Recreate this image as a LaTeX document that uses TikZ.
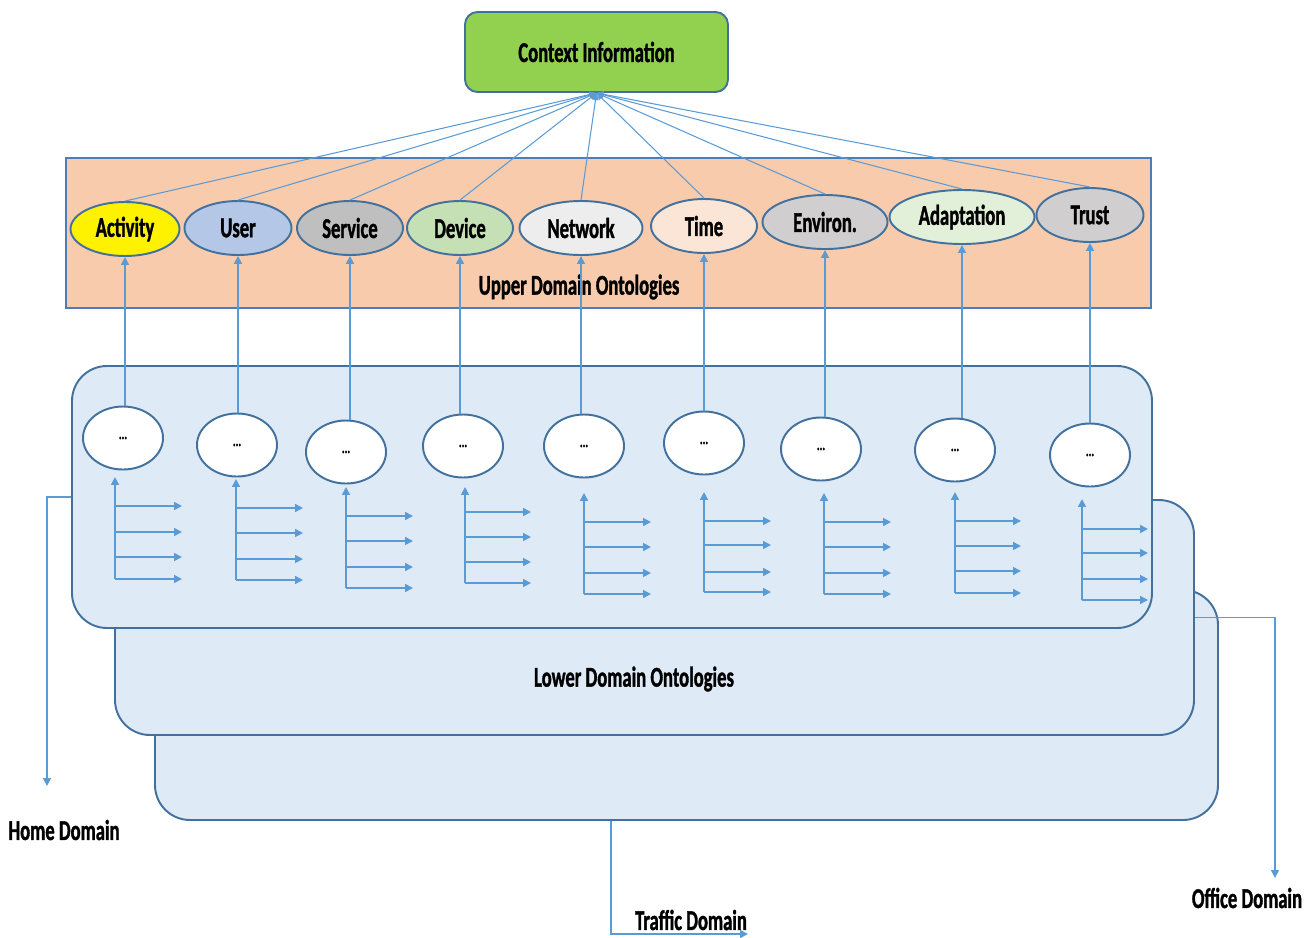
\documentclass[tikz,border=0pt]{standalone}
\usepackage{fontspec}
\newfontfamily\lblf{Carlito Bold}[FakeStretch=0.65, FakeBold=1.2]
\usetikzlibrary{shapes.geometric,arrows.meta}
\definecolor{ctxf}{HTML}{92D050}
\definecolor{ellc}{HTML}{41719C}
\definecolor{upf}{HTML}{F8CBAD}
\definecolor{upd}{HTML}{4A7EBB}
\definecolor{lowf}{HTML}{DEEAF6}
\definecolor{lowd}{HTML}{41719C}
\definecolor{connc}{HTML}{5B9BD5}
\definecolor{userf}{HTML}{B4C7E7}
\definecolor{servf}{HTML}{BFBFBF}
\definecolor{devf}{HTML}{C5E0B4}
\definecolor{netf}{HTML}{EDEDED}
\definecolor{timef}{HTML}{FBE5D6}
\definecolor{envf}{HTML}{D0CECE}
\definecolor{adapf}{HTML}{E2F0D9}
\newcommand\forkgrp[7]{%
  \draw[conn,tip] (#1,#6) -- (#1,#2);
  \foreach \yy in {#3,#4,#5,#6} \draw[conn,tip] (#1,\yy) -- (#7,\yy);
}
\begin{document}
\begin{tikzpicture}[x=0.02cm,y=-0.02cm,
  lbl/.style={font=\lblf\fontsize{16.3}{18}\selectfont, text=black},
  conn/.style={draw=connc, line width=0.9pt},
  tip/.style={-{Triangle[length=4.5pt,width=4.5pt]}},
  thintip/.style={-{Triangle[length=4pt,width=3.5pt]}},
  upell/.style={ellipse, draw=ellc, line width=1.1pt, minimum height={54*0.02cm}, inner sep=0pt, lbl},
  smell/.style={ellipse, draw=ellc, fill=white, line width=1.1pt, minimum width={80*0.02cm}, minimum height={63*0.02cm}, inner sep=0pt, font=\lblf\fontsize{9}{10}\selectfont},
  lowbox/.style={draw=lowd, fill=lowf, line width=1.1pt, rounded corners=0.7cm, inner sep=0pt}
]
\useasboundingbox (0,0) rectangle (1315,937);

% context information
\node[draw=ellc, fill=ctxf, line width=1.1pt, rounded corners=0.25cm, minimum width={263*0.02cm}, minimum height={80*0.02cm}, lbl] (ctx) at (596.5,52) {Context Information};

% upper domain box
\node[draw=upd, fill=upf, line width=1.1pt, minimum width={1085*0.02cm}, minimum height={150*0.02cm}] (upper) at (608.5,233) {};
\node[lbl] (uplbl) at (579,287) {Upper Domain Ontologies};

\node[upell, fill=yellow, minimum width={109*0.02cm}] (act) at (125,229) {Activity};
\node[upell, fill=userf, minimum width={107*0.02cm}] (user) at (238,228) {User};
\node[upell, fill=servf, minimum width={106*0.02cm}] (serv) at (350,228) {Service};
\node[upell, fill=devf, minimum width={106*0.02cm}] (dev) at (460,228) {Device};
\node[upell, fill=netf, minimum width={123*0.02cm}] (net) at (581,228) {Network};
\node[upell, fill=timef, minimum width={106*0.02cm}] (time) at (704,226) {Time};
\node[upell, fill=envf, minimum width={125*0.02cm}] (env) at (825,222) {Environ.};
\node[upell, fill=adapf, minimum width={145*0.02cm}] (adap) at (962,217) {Adaptation};
\node[upell, fill=envf, minimum width={107*0.02cm}] (trust) at (1090,215) {Trust};

\foreach \n in {act,user,serv,dev,net,time,env,adap,trust}
  \draw[conn, line width=0.6pt, thintip] (\n.north) -- (ctx.south);

% lower domain boxes
\node[lowbox, minimum width={1063*0.02cm}, minimum height={230*0.02cm}] (back) at (686.5,705) {};
\node[lowbox, minimum width={1079*0.02cm}, minimum height={235*0.02cm}] (mid) at (654.5,617.5) {};
\node[lowbox, minimum width={1080*0.02cm}, minimum height={262*0.02cm}] (front) at (612,497) {};
\node[lbl] (lowlbl) at (634,679) {Lower Domain Ontologies};

% small ellipses
\node[smell] (s1) at (123,438) {...};
\node[smell] (s2) at (237,445) {...};
\node[smell] (s3) at (346,452) {...};
\node[smell] (s4) at (463,446) {...};
\node[smell] (s5) at (584,446) {...};
\node[smell] (s6) at (704,443) {...};
\node[smell] (s7) at (821,449) {...};
\node[smell] (s8) at (955,450) {...};
\node[smell] (s9) at (1090,455) {...};

\draw[conn,tip] (act.south |- s1.north) -- (act.south);
\draw[conn,tip] (user.south |- s2.north) -- (user.south);
\draw[conn,tip] (serv.south |- s3.north) -- (serv.south);
\draw[conn,tip] (dev.south |- s4.north) -- (dev.south);
\draw[conn,tip] (net.south |- s5.north) -- (net.south);
\draw[conn,tip] (time.south |- s6.north) -- (time.south);
\draw[conn,tip] (env.south |- s7.north) -- (env.south);
\draw[conn,tip] (adap.south |- s8.north) -- (adap.south);
\draw[conn,tip] (trust.south |- s9.north) -- (trust.south);

% forks
\forkgrp{115}{477}{506}{532}{557}{579}{182}
\forkgrp{236}{479}{508}{533}{559}{580}{303}
\forkgrp{346}{487}{516}{541}{567}{588}{413}
\forkgrp{465}{487}{512}{537}{562}{583}{531}
\forkgrp{584}{493}{522}{547}{573}{594}{651}
\forkgrp{704}{492}{521}{545}{572}{592}{771}
\forkgrp{824}{493}{522}{547}{573}{594}{891}
\forkgrp{955}{492}{521}{546}{571}{593}{1021}
\forkgrp{1082}{499}{529}{553}{579}{600}{1148}

% domain connectors
\coordinate (homeend) at (47,786);
\coordinate (officeend) at (1275,878);
\coordinate (tcorner) at (611,934);
\coordinate (trafficend) at (748,934);
\draw[conn,tip] (front.west) -| (homeend);
\draw[conn,tip] (mid.east) -| (officeend);
\draw[conn,tip] (back.south -| tcorner) -- (tcorner) -- (trafficend);

\node[lbl] (home) at (64,830) {Home Domain};
\node[lbl] (office) at (1247,898) {Office Domain};
\node[lbl] (traffic) at (691,920) {Traffic Domain};
\end{tikzpicture}
\end{document}
